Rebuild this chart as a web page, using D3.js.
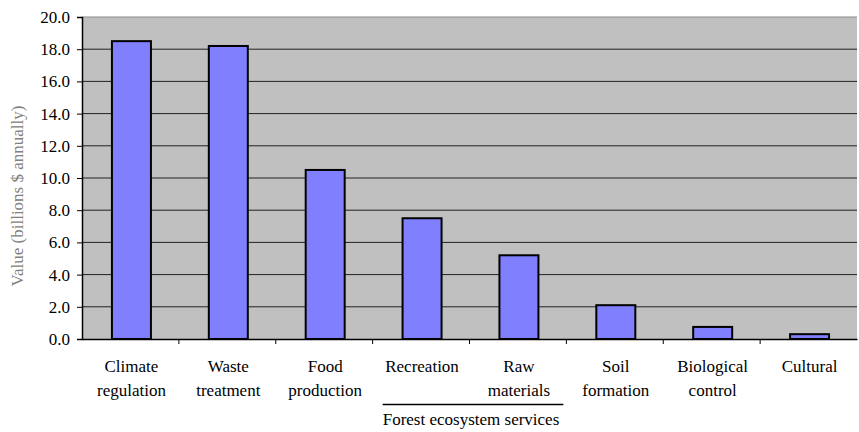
<!DOCTYPE html>
<html><head><meta charset="utf-8">
<script src="https://cdn.jsdelivr.net/npm/d3@7"></script>
</head><body style="margin:0">
<svg id="c" width="859" height="432" font-family="Liberation Serif, serif"></svg>
<script>
const categories = ["Climate regulation","Waste treatment","Food production","Recreation","Raw materials","Soil formation","Biological control","Cultural"];
const labelLines = [["Climate","regulation"],["Waste","treatment"],["Food","production"],["Recreation"],["Raw","materials"],["Soil","formation"],["Biological","control"],["Cultural"]];
const values = [18.5, 18.2, 10.5, 7.5, 5.2, 2.1, 0.75, 0.3];
const yTicks = [0,2,4,6,8,10,12,14,16,18,20];
const groupLabel = "Forest ecosystem services";
const groupMembers = ["Recreation","Raw materials"];
const yTitle = "Value (billions $ annually)";

const svg = d3.select("#c");
const L = 82, R = 857, T = 17, B = 339;
const FF = "Liberation Serif";
const FS = "17px";
const x = d3.scaleBand().domain(categories).range([L, R]).paddingInner(0).paddingOuter(0);
const y = d3.scaleLinear().domain([0, 20]).range([B, T]);

svg.append("rect").attr("x", L).attr("y", T).attr("width", R - L).attr("height", B - T).attr("fill", "#c0c0c0");

svg.append("g").selectAll("line").data(yTicks.filter(d => d > 0 && d < 20)).join("line")
  .attr("x1", L).attr("x2", R).attr("y1", d => y(d)).attr("y2", d => y(d))
  .attr("stroke", "#222").attr("stroke-width", 1);
svg.append("line").attr("x1", L).attr("x2", R).attr("y1", y(20)).attr("y2", y(20)).attr("stroke", "#888").attr("stroke-width", 1);

const bw = 39;
svg.append("g").selectAll("rect").data(values).join("rect")
  .attr("x", (d, i) => x(categories[i]) + x.bandwidth() / 2 - bw / 2 + 1)
  .attr("y", d => y(d))
  .attr("width", bw)
  .attr("height", d => B - y(d))
  .attr("fill", "#8080ff").attr("stroke", "#000").attr("stroke-width", 2);

const ya = svg.append("g").attr("transform", `translate(${L},0)`)
  .call(d3.axisLeft(y).tickValues(yTicks).tickFormat(d3.format(".1f")).tickSize(5).tickPadding(7));
ya.attr("font-family", null).attr("font-size", null);
ya.select(".domain").attr("stroke", "#000").attr("stroke-width", 1.5);
ya.selectAll(".tick line").attr("stroke", "#000");
ya.selectAll("text").style("font-family", FF).style("font-size", FS).attr("fill", "#000");

const xa = svg.append("g").attr("transform", `translate(0,${B})`)
  .call(d3.axisBottom(x).tickValues([]).tickSizeOuter(0));
xa.select(".domain").attr("stroke", "#000").attr("stroke-width", 1.5);
svg.append("g").selectAll("line").data(categories.slice(1)).join("line")
  .attr("x1", d => x(d)).attr("x2", d => x(d)).attr("y1", B).attr("y2", B + 5)
  .attr("stroke", "#000");

const lab = svg.append("g").selectAll("text").data(categories).join("text")
  .attr("x", d => x(d) + x.bandwidth() / 2 + 1)
  .attr("y", 371.5)
  .attr("text-anchor", "middle").style("font-family", FF).style("font-size", FS).attr("fill", "#000");
lab.each(function(d, i) {
  d3.select(this).selectAll("tspan").data(labelLines[i]).join("tspan")
    .attr("x", x(d) + x.bandwidth() / 2 + 1)
    .attr("dy", (t, j) => j === 0 ? 0 : 24.5)
    .text(t => t);
});

const gx1 = x(groupMembers[0]) + 10, gx2 = x(groupMembers[1]) + x.bandwidth() - 3;
svg.append("line").attr("x1", gx1).attr("x2", gx2).attr("y1", 404.5).attr("y2", 404.5).attr("stroke", "#000").attr("stroke-width", 1.5);
svg.append("text").attr("x", (gx1 + gx2) / 2 - 2).attr("y", 425).attr("text-anchor", "middle")
  .style("font-family", FF).style("font-size", FS).attr("fill", "#000").text(groupLabel);

svg.append("text").attr("transform", `translate(23,196) rotate(-90)`)
  .attr("text-anchor", "middle").style("font-family", FF).style("font-size", FS).attr("fill", "#808080").text(yTitle);
</script>
</body></html>
